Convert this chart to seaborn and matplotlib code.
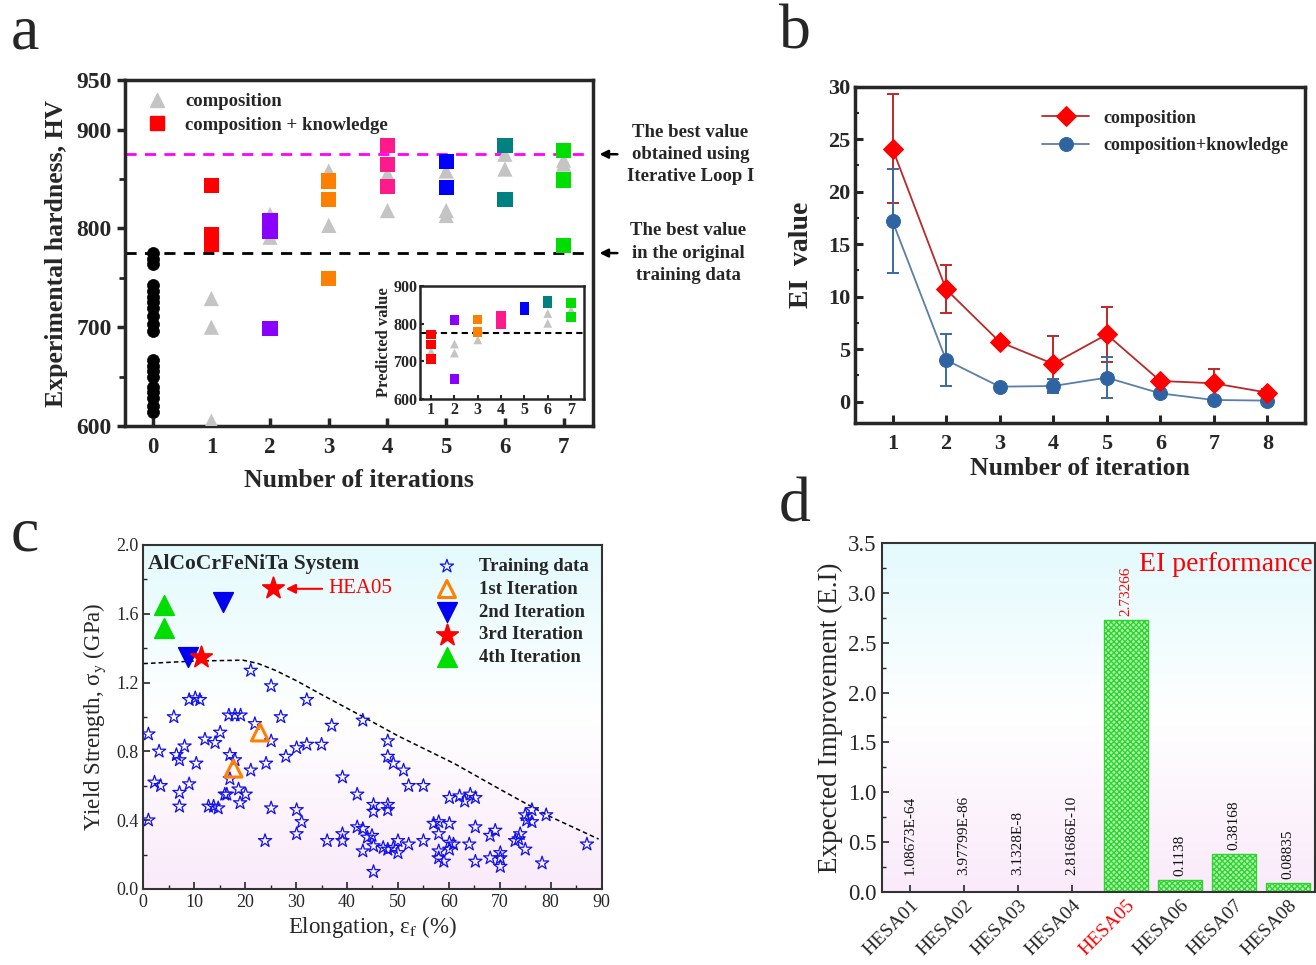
import numpy as np
import pandas as pd
import matplotlib
matplotlib.use("Agg")
import matplotlib.pyplot as plt
import seaborn as sns
from matplotlib.colors import LinearSegmentedColormap
from matplotlib.lines import Line2D
from matplotlib.ticker import MultipleLocator, FixedLocator

# ---------------- data: panel a ----------------
iter0_hv = [775, 769, 764, 743, 737, 731, 725, 719, 711, 703, 696, 667, 661, 656, 650, 640, 634, 628, 620, 614]
comp_iter = [1, 1, 1, 2, 2, 3, 3, 4, 4, 5, 5, 5, 6, 6, 7, 7]
comp_hv = [729, 700, 605, 814, 791, 858, 803, 855, 818, 858, 818, 813, 875, 860, 869, 865]
know_iter = [1, 1, 1, 2, 2, 2, 3, 3, 3, 4, 4, 4, 5, 5, 6, 6, 7, 7, 7]
know_hv = [843, 794, 784, 808, 797, 699, 848, 829, 749, 884, 865, 842, 868, 841, 884, 829, 879, 849, 783]
best_loop = 875
best_train = 775
inset_comp_iter = [1, 2, 2, 3, 6, 6, 7]
inset_comp_hv = [726, 746, 722, 757, 827, 801, 836]
inset_know_iter = [1, 1, 1, 2, 2, 3, 3, 4, 4, 5, 5, 6, 6, 7, 7]
inset_know_hv = [772, 744, 706, 810, 653, 812, 778, 822, 798, 845, 836, 860, 853, 855, 818]
iter_colors = {1: "#ff0000", 2: "#8a00ff", 3: "#ff8000", 4: "#ff1a8c",
               5: "#0000ff", 6: "#008080", 7: "#00dd00"}

# ---------------- data: panel b ----------------
iters_b = [1, 2, 3, 4, 5, 6, 7, 8]
comp_ei = [24.1, 10.7, 5.7, 3.6, 6.4, 1.97, 1.75, 0.86]
comp_err = [5.2, 2.3, 0.4, 2.7, 2.6, 0.3, 1.4, 0.3]
know_ei = [17.2, 3.97, 1.43, 1.49, 2.29, 0.79, 0.16, 0.10]
know_err = [4.95, 2.45, 0.3, 0.65, 1.95, 0.2, 0.1, 0.1]

# ---------------- data: panel c ----------------
train_el = [1.0, 3.1, 1.0, 2.2, 3.4, 6.0, 6.5, 7.1, 8.1, 7.1, 7.1, 9.0, 9.0, 10.2, 11.1, 10.4,
            12.1, 14.1, 15.1, 12.8, 13.8, 14.7, 16.0, 16.4, 17.0, 17.0, 18.0, 16.8, 18.0, 19.1,
            18.7, 20.1, 19.0, 21.1, 21.9, 21.1, 24.1, 25.1, 25.1, 25.1, 23.9, 27.0, 28.0, 30.1,
            32.1, 32.1, 35.0, 30.1, 31.1, 30.1, 36.1, 37.0, 39.1, 39.1, 39.1, 42.0, 42.0, 43.1,
            43.1, 43.1, 44.0, 44.9, 45.2, 45.2, 45.2, 45.2, 48.0, 48.0, 49.1, 48.0, 48.0, 47.1,
            48.0, 49.1, 50.0, 50.0, 51.1, 52.1, 52.1, 55.0, 55.0, 57.0, 58.0, 58.0, 58.0, 58.0,
            59.0, 60.1, 60.1, 60.1, 60.1, 60.9, 62.1, 63.1, 64.2, 65.2, 64.0, 65.2, 65.2, 68.1,
            69.1, 68.1, 70.1, 70.1, 70.1, 73.0, 74.0, 75.0, 75.0, 75.3, 76.3, 76.3, 78.3, 79.1,
            87.1, 73.7]
train_ys = [0.90, 0.80, 0.40, 0.62, 0.60, 1.00, 0.78, 0.75, 0.83, 0.56, 0.48, 0.61, 1.10, 1.11, 1.10, 0.73,
            0.87, 0.85, 0.91, 0.48, 0.48, 0.47, 0.55, 0.55, 0.78, 0.64, 0.75, 1.01, 1.01, 1.01,
            0.58, 0.55, 0.50, 1.27, 0.96, 0.69, 0.73, 1.18, 0.86, 0.47, 0.28, 1.00, 0.77, 0.82,
            0.84, 1.10, 0.84, 0.46, 0.39, 0.32, 0.28, 0.95, 0.65, 0.32, 0.28, 0.55, 0.36, 0.98,
            0.35, 0.22, 0.30, 0.31, 0.49, 0.45, 0.25, 0.10, 0.86, 0.77, 0.73, 0.49, 0.46, 0.24,
            0.23, 0.24, 0.28, 0.21, 0.69, 0.60, 0.26, 0.60, 0.28, 0.38, 0.39, 0.32, 0.22, 0.18,
            0.16, 0.53, 0.38, 0.27, 0.23, 0.26, 0.54, 0.51, 0.55, 0.53, 0.26, 0.36, 0.16, 0.31,
            0.34, 0.18, 0.21, 0.18, 0.13, 0.28, 0.32, 0.23, 0.43, 0.40, 0.46, 0.39, 0.15, 0.43,
            0.26, 0.29]
it1_el, it1_ys = [22.9, 17.7], [0.91, 0.70]
it2_el, it2_ys = [15.7, 8.8], [1.67, 1.35]
it3_el, it3_ys = [25.4, 11.3], [1.75, 1.35]
it4_el, it4_ys = [4.1, 4.1], [1.65, 1.52]
front_el = [0, 10, 19.6, 22.6, 26, 30.1, 35, 43.2, 50, 61, 70, 79.2, 89.4]
front_ys = [1.31, 1.325, 1.33, 1.31, 1.27, 1.21, 1.13, 1.00, 0.89, 0.73, 0.58, 0.43, 0.29]

# ---------------- data: panel d ----------------
hesa_names = ["HESA01", "HESA02", "HESA03", "HESA04", "HESA05", "HESA06", "HESA07", "HESA08"]
hesa_ei = [1.08673e-64, 3.97799e-86, 3.1328e-8, 2.81686e-10, 2.73266, 0.1138, 0.38168, 0.08835]
hesa_lbl = ["1.08673E-64", "3.97799E-86", "3.1328E-8", "2.81686E-10", "2.73266", "0.1138", "0.38168", "0.08835"]

# ---------------- style ----------------
sns.set_theme(style="ticks")
plt.rcParams["font.family"] = ["Liberation Serif", "DejaVu Serif"]
plt.rcParams["mathtext.fontset"] = "stix"
plt.rcParams["axes.unicode_minus"] = False

fig = plt.figure(figsize=(13.16, 9.65), dpi=100)

grad_cmap = LinearSegmentedColormap.from_list("bg", ["#e3fafd", "#ffffff", "#faeafa"])


def gradient_bg(ax):
    g = np.linspace(0, 1, 256).reshape(-1, 1)
    ax.imshow(g, extent=[0, 1, 0, 1], transform=ax.transAxes, cmap=grad_cmap,
              aspect="auto", zorder=-10, origin="upper")


# ================= panel a =================
axA = fig.add_axes([0.0950, 0.5585, 0.3556, 0.3585])
sns.scatterplot(x=[0] * len(iter0_hv), y=iter0_hv, color="black", marker="o", s=75,
                edgecolor="black", linewidth=0.5, ax=axA, zorder=3)
sns.scatterplot(x=comp_iter, y=comp_hv, color="#c4c4c4", marker="^", s=120,
                edgecolor="none", ax=axA, zorder=3)
sns.scatterplot(x=know_iter, y=know_hv, hue=know_iter, palette=iter_colors, marker="s", s=120,
                edgecolor="none", legend=False, ax=axA, zorder=4)
axA.axhline(best_loop, color="#ff00ff", ls=(0, (4, 3)), lw=2, zorder=2)
axA.axhline(best_train, color="black", ls=(0, (4, 3)), lw=2, zorder=2)
axA.set_xlim(-0.47, 7.5)
axA.set_ylim(600, 950)
axA.yaxis.set_major_locator(FixedLocator([600, 700, 800, 900, 950]))
axA.yaxis.set_minor_locator(FixedLocator([650, 750, 850]))
axA.set_xticks(range(0, 8))
axA.tick_params(axis="x", direction="in", length=6, width=2.5, labelsize=16.5, pad=8)
axA.tick_params(axis="y", which="major", direction="out", length=6, width=2.5, labelsize=17)
axA.tick_params(axis="y", which="minor", direction="out", length=4, width=2)
for lab in axA.get_xticklabels() + axA.get_yticklabels():
    lab.set_fontweight("bold")
for sp in axA.spines.values():
    sp.set_linewidth(2.5)
    sp.set_visible(True)
axA.set_xlabel("Number of iterations", fontsize=18.5, fontweight="bold", labelpad=8)
axA.set_ylabel("Experimental hardness, HV", fontsize=18.5, fontweight="bold", labelpad=6)
leg_handles = [Line2D([], [], marker="^", color="#c4c4c4", ls="none", markersize=10),
               Line2D([], [], marker="s", color="#ff0000", ls="none", markersize=10)]
axA.legend(leg_handles, ["composition", "composition + knowledge"], loc="upper left",
           frameon=False, prop={"weight": "bold", "size": 13.5}, handletextpad=0.5,
           borderaxespad=0.3, labelspacing=0.35)
axA.annotate("", xy=(1.008, best_loop), xytext=(1.058, best_loop),
             xycoords=("axes fraction", "data"), textcoords=("axes fraction", "data"),
             arrowprops=dict(arrowstyle="-|>", color="black", lw=1.8, mutation_scale=12),
             annotation_clip=False)
axA.annotate("", xy=(1.008, best_train), xytext=(1.058, best_train),
             xycoords=("axes fraction", "data"), textcoords=("axes fraction", "data"),
             arrowprops=dict(arrowstyle="-|>", color="black", lw=1.8, mutation_scale=12),
             annotation_clip=False)
axA.text(1.072, best_loop, "The best value\nobtained using\nIterative Loop I",
         transform=axA.get_yaxis_transform(), ha="left", va="center", multialignment="center",
         fontsize=13.5, fontweight="bold", linespacing=1.4)
axA.text(1.08, best_train, "The best value\nin the original\ntraining data",
         transform=axA.get_yaxis_transform(), ha="left", va="center", multialignment="center",
         fontsize=13.5, fontweight="bold", linespacing=1.4)

# inset
axI = fig.add_axes([0.3191, 0.5865, 0.1246, 0.1171])
sns.scatterplot(x=inset_comp_iter, y=inset_comp_hv, color="#c4c4c4", marker="^", s=40,
                edgecolor="none", ax=axI, zorder=3)
sns.scatterplot(x=inset_know_iter, y=inset_know_hv, hue=inset_know_iter, palette=iter_colors,
                marker="s", s=45, edgecolor="none", legend=False, ax=axI, zorder=4)
axI.axhline(best_train, color="black", ls=(0, (3, 2)), lw=1.5, zorder=2)
axI.set_xlim(0.52, 7.55)
axI.set_ylim(600, 900)
axI.set_xticks(range(1, 8))
axI.set_yticks([600, 700, 800, 900])
axI.tick_params(direction="in", length=3, width=1.5, labelsize=11.5, pad=2)
for lab in axI.get_xticklabels() + axI.get_yticklabels():
    lab.set_fontweight("bold")
for sp in axI.spines.values():
    sp.set_linewidth(1.8)
axI.set_ylabel("Predicted value", fontsize=12, fontweight="bold", labelpad=1)

# ================= panel b =================
axB = fig.add_axes([0.6497, 0.5620, 0.3419, 0.3482])
axB.errorbar(iters_b, comp_ei, yerr=comp_err, fmt="none", ecolor="#c02828", elinewidth=1.4,
             capsize=4, capthick=1.4, zorder=2)
axB.errorbar(iters_b, know_ei, yerr=know_err, fmt="none", ecolor="#3a6aa0", elinewidth=1.4,
             capsize=4, capthick=1.4, zorder=2)
sns.lineplot(x=iters_b, y=comp_ei, color="#b82a2a", marker="D", markersize=10,
             markerfacecolor="#ff0000", markeredgecolor="#ff0000", lw=1.3,
             label="composition", ax=axB, zorder=4)
sns.lineplot(x=iters_b, y=know_ei, color="#5a7fa8", marker="o", markersize=10,
             markerfacecolor="#2f64a3", markeredgecolor="#2f64a3", lw=1.3,
             label="composition+knowledge", ax=axB, zorder=3)
axB.set_xlim(0.3, 8.7)
axB.set_ylim(-2, 30)
axB.set_xticks(iters_b)
axB.yaxis.set_major_locator(FixedLocator([0, 5, 10, 15, 20, 25, 30]))
axB.yaxis.set_minor_locator(FixedLocator([2.5, 7.5, 12.5, 17.5, 22.5, 27.5]))
axB.tick_params(axis="both", which="major", direction="in", length=6, width=2.2, labelsize=16)
axB.tick_params(axis="x", pad=8)
axB.tick_params(axis="y", which="minor", direction="in", length=3, width=1.5)
for lab in axB.get_xticklabels() + axB.get_yticklabels():
    lab.set_fontweight("bold")
for sp in axB.spines.values():
    sp.set_linewidth(2.5)
    sp.set_visible(True)
axB.set_xlabel("Number of iteration", fontsize=18.5, fontweight="bold", labelpad=2)
axB.set_ylabel("EI  value", fontsize=20, fontweight="bold", labelpad=10)
axB.legend(loc="upper right", bbox_to_anchor=(1.0, 0.98), frameon=False,
           prop={"weight": "bold", "size": 13}, handlelength=2.6, labelspacing=0.6)

# ================= panel c =================
axC = fig.add_axes([0.1089, 0.0788, 0.3483, 0.3565])
gradient_bg(axC)
sns.scatterplot(x=train_el, y=train_ys, marker="*", s=100, fc="none", ec="#1010ee",
                linewidth=0.9, ax=axC, zorder=3, label="Training data")
sns.scatterplot(x=it1_el, y=it1_ys, marker="^", s=150, fc="none", ec="#ff8000",
                linewidth=2.2, ax=axC, zorder=4, label="1st Iteration")
sns.scatterplot(x=it2_el, y=it2_ys, marker="v", s=200, color="#0000ee", ec="#0000ee",
                ax=axC, zorder=4, label="2nd Iteration")
sns.scatterplot(x=it3_el, y=it3_ys, marker="*", s=260, color="#ff0000", ec="#ff0000",
                ax=axC, zorder=5, label="3rd Iteration")
sns.scatterplot(x=it4_el, y=it4_ys, marker="^", s=200, color="#00dd00", ec="#00dd00",
                ax=axC, zorder=4, label="4th Iteration")
sns.lineplot(x=front_el, y=front_ys, color="black", ls=(0, (3, 2)), lw=1.1, ax=axC,
             zorder=2, sort=False)
axC.set_xlim(0, 90)
axC.set_ylim(0, 2.0)
axC.xaxis.set_major_locator(MultipleLocator(10))
axC.xaxis.set_minor_locator(MultipleLocator(5))
axC.yaxis.set_major_locator(MultipleLocator(0.4))
axC.yaxis.set_minor_locator(MultipleLocator(0.2))
axC.yaxis.set_major_formatter(matplotlib.ticker.FormatStrFormatter("%.1f"))
axC.tick_params(which="major", direction="in", length=5, width=1.2, labelsize=13)
axC.tick_params(which="minor", direction="in", length=3, width=1.0)
for sp in axC.spines.values():
    sp.set_linewidth(1.5)
    sp.set_color("#333333")
axC.set_xlabel("Elongation, ε$_\\mathrm{f}$ (%)", fontsize=16.5, labelpad=2)
axC.set_ylabel("Yield Strength, σ$_\\mathrm{y}$ (GPa)", fontsize=16.5, labelpad=6)
axC.text(0.01, 0.975, "AlCoCrFeNiTa System", transform=axC.transAxes, ha="left", va="top",
         fontsize=15.5, fontweight="bold")
axC.annotate("HEA05", xy=(28.0, 1.745), xytext=(36.3, 1.745), color="#ff0000", fontsize=15,
             va="center", ha="left",
             arrowprops=dict(arrowstyle="-|>", color="#ff0000", lw=1.5, mutation_scale=14,
                             shrinkA=2, shrinkB=0))
axC.legend(loc="upper right", bbox_to_anchor=(1.0, 1.0), frameon=False,
           prop={"weight": "bold", "size": 13.5}, handletextpad=0.7, labelspacing=0.3,
           borderaxespad=0.3)

# ================= panel d =================
axD = fig.add_axes([0.670, 0.0760, 0.3293, 0.3610])
gradient_bg(axD)
dfd = pd.DataFrame({"name": hesa_names, "ei": hesa_ei})
sns.barplot(data=dfd, x="name", y="ei", color="#93f093", width=0.81, ax=axD, zorder=2,
            edgecolor="#2fd42f", linewidth=1.0)
for p in axD.patches:
    p.set_hatch("xxxxxx")
    p.set_facecolor("#b3f7b3")
    p.set_edgecolor("#2fd42f")
for i, (v, t) in enumerate(zip(hesa_ei, hesa_lbl)):
    off = 3 if v > 0.05 else 12
    axD.annotate(t, xy=(i, v), xytext=(0, off), textcoords="offset points", rotation=90,
                 ha="center", va="bottom", fontsize=11,
                 color="#ff0000" if t == "2.73266" else "#111111")
axD.set_xlim(-0.52, 7.5)
axD.set_ylim(0, 3.5)
axD.yaxis.set_major_locator(MultipleLocator(0.5))
axD.yaxis.set_minor_locator(MultipleLocator(0.25))
axD.yaxis.set_major_formatter(matplotlib.ticker.FormatStrFormatter("%.1f"))
axD.tick_params(axis="y", which="major", direction="in", length=5, width=1.2, labelsize=16.5)
axD.tick_params(axis="y", which="minor", direction="in", length=3, width=1.0)
axD.tick_params(axis="x", direction="in", length=5, width=1.2, labelsize=14)
axD.set_xticks(range(len(hesa_names)))
axD.set_xticklabels(hesa_names, rotation=45, ha="right", rotation_mode="anchor")
for lab in axD.get_xticklabels():
    if lab.get_text() == "HESA05":
        lab.set_color("#ff0000")
for sp in axD.spines.values():
    sp.set_linewidth(1.5)
    sp.set_color("#333333")
axD.set_xlabel("")
axD.set_ylabel("Expected Improvement (E.I)", fontsize=19.5, labelpad=4)
axD.text(0.995, 0.975, "EI performance", transform=axD.transAxes, ha="right", va="top",
         fontsize=20, color="#ff0000")

# panel letters
for ch, x, y in [("a", 0.008, 0.995), ("b", 0.592, 0.995), ("c", 0.008, 0.475), ("d", 0.592, 0.505)]:
    fig.text(x, y, ch, fontsize=46, ha="left", va="top")

fig.savefig("out.png", dpi=100)
